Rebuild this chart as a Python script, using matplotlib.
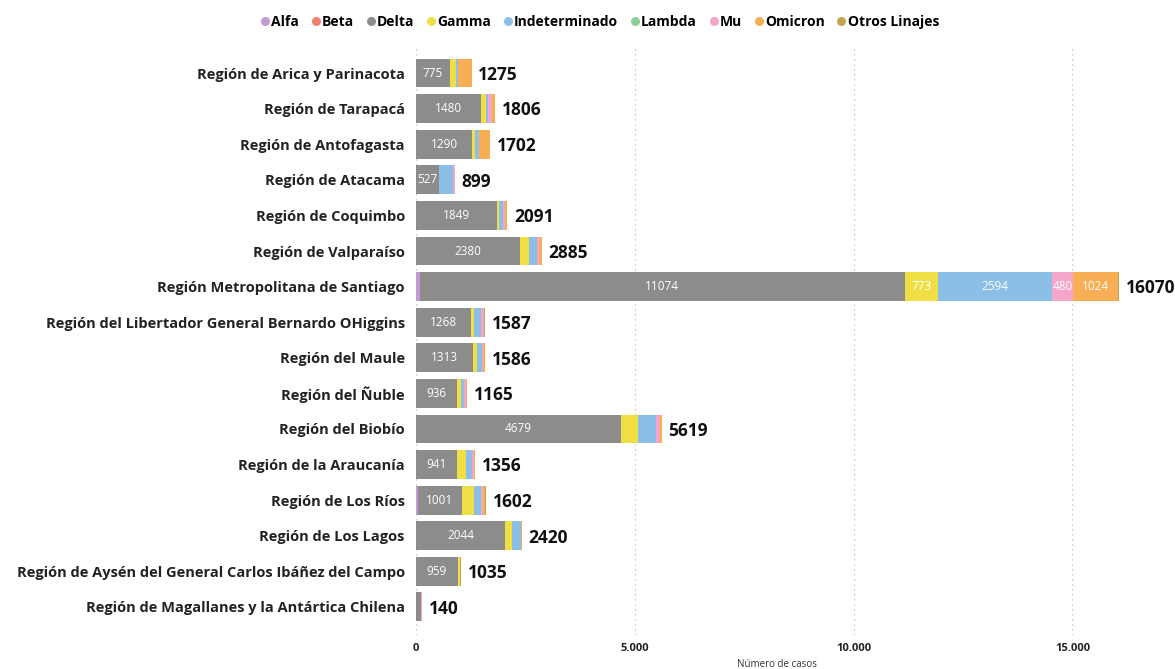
import matplotlib
matplotlib.use("Agg")
import matplotlib.pyplot as plt
import numpy as np
from matplotlib.lines import Line2D
from matplotlib.ticker import FuncFormatter

plt.rcParams["font.family"] = ["Open Sans", "DejaVu Sans"]

regions = ["Región de Arica y Parinacota", "Región de Tarapacá", "Región de Antofagasta",
           "Región de Atacama", "Región de Coquimbo", "Región de Valparaíso",
           "Región Metropolitana de Santiago", "Región del Libertador General Bernardo OHiggins",
           "Región del Maule", "Región del Ñuble", "Región del Biobío", "Región de la Araucanía",
           "Región de Los Ríos", "Región de Los Lagos",
           "Región de Aysén del General Carlos Ibáñez del Campo",
           "Región de Magallanes y la Antártica Chilena"]
lineages = ["Alfa", "Beta", "Delta", "Gamma", "Indeterminado", "Lambda", "Mu", "Omicron", "Otros Linajes"]
colors = ["#C39BD3", "#F1806F", "#8C8C8C", "#F0DE45", "#8BBFE8", "#8ECF96", "#F4A6C8", "#F8AE54", "#C4A44E"]

alfa   = [0, 0, 0, 0, 0, 0, 91, 0, 0, 0, 0, 0, 46, 0, 0, 0]
beta   = [0] * 16
delta  = [775, 1480, 1290, 527, 1849, 2380, 11074, 1268, 1313, 936, 4679, 941, 1001, 2044, 959, 110]
gamma  = [137, 110, 69, 0, 46, 206, 773, 69, 91, 85, 392, 200, 285, 160, 46, 0]
indet  = [40, 55, 91, 320, 91, 183, 2594, 145, 114, 80, 419, 131, 155, 193, 0, 0]
lambda_ = [0] * 16
mu     = [20, 90, 0, 38, 46, 46, 480, 69, 23, 35, 91, 46, 46, 0, 0, 18]
omicron = [303, 71, 236, 14, 59, 70, 1024, 0, 45, 29, 38, 38, 46, 23, 0, 12]
otros  = [0, 0, 16, 0, 0, 0, 34, 36, 0, 0, 0, 0, 23, 0, 30, 0]
totals = [1275, 1806, 1702, 899, 2091, 2885, 16070, 1587, 1586, 1165, 5619, 1356, 1602, 2420, 1035, 140]

series = [alfa, beta, delta, gamma, indet, lambda_, mu, omicron, otros]

fig = plt.figure(figsize=(11.75, 6.69), dpi=100)
ax = fig.add_axes([0.354, 0.0508, 0.6145, 0.882])

y = np.arange(len(regions))
left = np.zeros(len(regions))
for name, vals, col in zip(lineages, series, colors):
    v = np.array(vals, dtype=float)
    ax.barh(y, v, left=left, height=0.81, color=col, edgecolor="none", zorder=3)
    for i, val in enumerate(v):
        if val >= 450:
            ax.text(left[i] + val / 2, y[i], f"{int(val)}", ha="center", va="center",
                    color="white", fontsize=8.5, zorder=4)
    left += v

for i, t in enumerate(totals):
    ax.text(left[i] + 150, y[i] + 0.05, f"{t}", ha="left", va="center",
            fontsize=12.5, fontweight="bold", color="#111111")

ax.set_xlim(0, 16500)
ax.set_ylim(15.5 + 0.29, -0.5 - 0.29)
ax.set_yticks(y)
ax.set_yticklabels(regions, fontsize=10.5, fontweight="bold", color="#222222")
ax.set_xticks([0, 5000, 10000, 15000])
ax.xaxis.set_major_formatter(FuncFormatter(lambda v, p: f"{int(v):,}".replace(",", ".")))
for lab in ax.get_xticklabels():
    lab.set_fontweight("bold")
ax.tick_params(axis="x", labelsize=8, length=0, pad=6, colors="#222222")
ax.tick_params(axis="y", length=0, pad=8)
ax.grid(axis="x", linestyle=(0, (1, 3)), color="#BBBBBB", linewidth=0.9, zorder=0)
for s in ax.spines.values():
    s.set_visible(False)
ax.set_xlabel("Número de casos", fontsize=7, color="#333333", labelpad=3)

handles = [Line2D([0], [0], marker="o", linestyle="none", markersize=6.5,
                  markerfacecolor=c, markeredgecolor="none") for c in colors]
leg = fig.legend(handles, lineages, loc="center", bbox_to_anchor=(0.508, 0.967), ncol=9,
                 frameon=False, handletextpad=-0.3, columnspacing=0.45, handlelength=1.5,
                 prop={"size": 10, "weight": "bold"})

fig.savefig("out.png", dpi=100)
